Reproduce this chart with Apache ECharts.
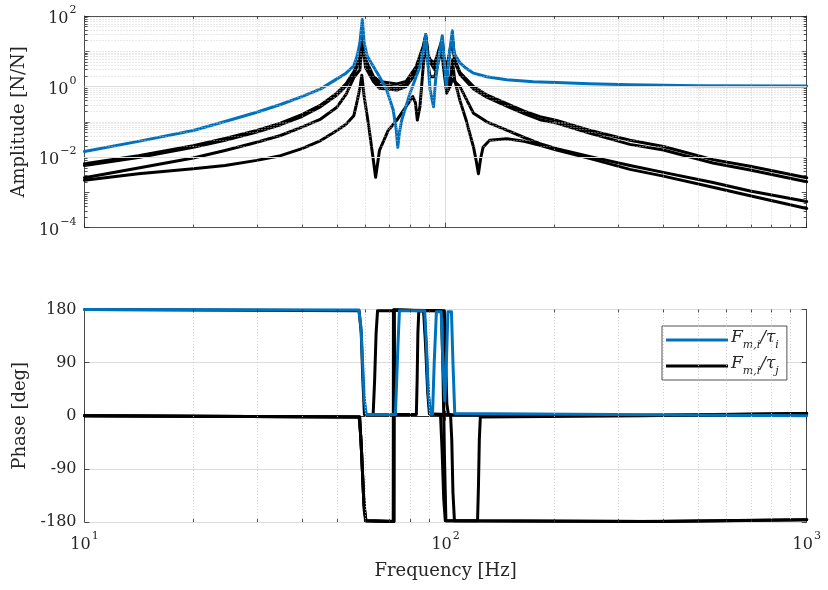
<!DOCTYPE html>
<html>
<head>
<meta charset="utf-8">
<script src="https://cdn.jsdelivr.net/npm/echarts@6/dist/echarts.min.js"></script>
<style>
  html, body { margin: 0; padding: 0; background: #fff; }
  #main { width: 828px; height: 590px; }
</style>
</head>
<body>
<div id="main"></div>
<script>
// --- amplitude (Hz / N/N) ---
var freqMagBlue = [10, 14.1, 20, 24.5, 30, 34.9, 40, 45.1, 50, 53, 55.7, 57.0, 57.9, 58.8, 59.5, 60.7, 63.1, 65.6, 68.7, 71.6, 73.0, 73.7, 74.5, 75.6, 79.7, 84.9, 87.0, 88.1, 89.3, 90.6, 92.6, 93.8, 95.5, 97.9, 99.0, 99.6, 100.4, 101.5, 102.8, 104.4, 105.5, 109.6, 114, 119.5, 130, 147.6, 175, 203, 250, 324, 500, 1000];
var magBlue = [0.0145, 0.028, 0.057, 0.102, 0.187, 0.31, 0.52, 0.86, 1.65, 2.4, 3.9, 8, 17.7, 80, 17, 7.2, 3.7, 1.9, 0.8, 0.216, 0.06, 0.019, 0.05, 0.112, 0.65, 3.7, 12, 30, 5, 0.8, 0.27, 1.5, 5.8, 28, 6, 3.0, 0.95, 3, 11, 38, 9, 4.7, 3.3, 2.4, 1.9, 1.55, 1.38, 1.3, 1.2, 1.12, 1.06, 1.03];

var freqMagA = [10, 14.1, 20, 24.5, 30, 34.9, 40, 45.1, 50, 53, 55.7, 57.0, 57.9, 58.8, 60, 63.1, 65.6, 73.3, 77.7, 82.9, 86.7, 88.1, 89.5, 90.6, 93.3, 96.5, 97.9, 99.6, 101.7, 104.4, 106, 109.6, 119.5, 130, 147.6, 165, 182.5, 203, 250, 324, 401, 550, 697, 1000];
var magA1 = [0.0065, 0.011, 0.021, 0.034, 0.057, 0.092, 0.16, 0.30, 0.65, 1.2, 2.6, 4.5, 6.5, 40, 6, 1.93, 1.39, 1.19, 1.39, 3.7, 13.9, 30, 8, 5.8, 4.6, 13.9, 22, 3.3, 5.8, 25, 6, 2.5, 1.0, 0.58, 0.33, 0.2, 0.14, 0.11, 0.058, 0.03, 0.02, 0.0085, 0.0055, 0.0026];
var magA2 = [0.0058, 0.0098, 0.019, 0.030, 0.051, 0.083, 0.142, 0.27, 0.58, 1.05, 2.3, 4, 5.5, 30, 5, 1.6, 1.11, 0.95, 1.15, 3.0, 12, 25, 7, 5, 3.8, 11, 18, 2.8, 5, 22, 5, 2.2, 0.85, 0.5, 0.28, 0.17, 0.115, 0.092, 0.048, 0.023, 0.016, 0.0068, 0.0043, 0.002];

var freqMagB = [10, 14.1, 20, 24.5, 30, 34.9, 40, 45.1, 50, 53, 55.7, 57.9, 58.8, 60, 63.1, 65.6, 73.3, 77.7, 82.9, 86.7, 88.1, 89.5, 91.5, 93.3, 96.5, 97.9, 99.6, 100.7, 101.7, 102.8, 104.4, 109.6, 119.5, 130, 147.6, 165, 182.5, 203, 250, 324, 401, 550, 697, 1000];
var magB = [0.0026, 0.0049, 0.0095, 0.0155, 0.0265, 0.041, 0.071, 0.12, 0.26, 0.6, 1.8, 3.0, 20, 3.5, 1.39, 0.89, 0.8, 1.0, 2.4, 9, 20, 6, 4.2, 3.0, 9, 15, 3, 1.55, 1.8, 1.0, 1.6, 1.0, 0.174, 0.1, 0.058, 0.036, 0.024, 0.0174, 0.0105, 0.0058, 0.0037, 0.0019, 0.0011, 0.00055];

var freqMagC = [10, 14.1, 20, 24.5, 30, 34.9, 40, 45.1, 50, 53, 55.7, 57.0, 58.0, 58.6, 59.5, 61.3, 63.1, 64.0, 65.6, 69.4, 73.3, 77.7, 81.1, 82.5, 83.5, 84.9, 86.7, 88.1, 89.5, 90.6, 93.3, 95.5, 97.5, 98.5, 100.7, 102.8, 104.4, 106, 109.6, 114, 119.5, 121.5, 123.3, 125, 127, 132.4, 147.6, 165, 182.5, 203, 250, 324, 401, 550, 697, 1000];
var magC = [0.0022, 0.0034, 0.0047, 0.0058, 0.0081, 0.011, 0.0174, 0.0296, 0.057, 0.085, 0.15, 0.42, 1.0, 2.1, 0.52, 0.072, 0.008, 0.0027, 0.0155, 0.058, 0.112, 0.27, 0.52, 0.35, 0.112, 0.27, 3.7, 18, 4, 1.9, 1.9, 5, 12, 4, 0.65, 1.0, 5.8, 1.5, 0.4, 0.112, 0.019, 0.008, 0.0034, 0.009, 0.019, 0.03, 0.033, 0.028, 0.0216, 0.016, 0.0092, 0.0045, 0.0029, 0.0014, 0.0008, 0.00035];

// --- phase (deg) ---
var freqPhBlue = [10, 57.5, 58.3, 58.9, 59.5, 60.3, 72.6, 73.2, 73.8, 74.5, 87.5, 88.5, 89.5, 90.8, 92.0, 93.0, 94.3, 97.2, 98.3, 99.5, 100.5, 101.5, 103.8, 104.8, 106.0, 1000];
var phBlue = [180, 179, 150, 90, 30, 2, 2, 60, 120, 178, 178, 120, 40, 3, 3, 90, 176, 176, 90, 25, 90, 176, 176, 90, 4, 0];

var freqPhA1 = [10, 57.6, 58.3, 58.9, 59.5, 60.2, 71.8, 71.9, 87.2, 88.3, 89.5, 90.5, 96.8, 97.8, 98.8, 99.8, 400, 1000];
var phA1 = [0, -2, -40, -100, -160, -178, -179, 179, 178, 120, 40, 3, 2, -60, -140, -178, -179, -176];

var freqPhA2 = [10, 57.8, 58.5, 59.2, 60.0, 72.0, 72.1, 86.9, 88.0, 89.2, 90.2, 103.2, 104.0, 104.8, 105.8, 350, 1000];
var phA2 = [0, -2, -60, -130, -178, -179, 179, 178, 120, 40, 3, 2, -40, -130, -178, -179, -176];

var freqPhB = [10, 57.8, 58.6, 59.4, 60.2, 71.6, 71.7, 99.2, 100.0, 100.8, 101.8, 350, 1000];
var phB = [0, -2, -70, -150, -178, -179, 179, 178, 100, 20, 2, 1, 4];

var freqPhC = [10, 57.6, 58.4, 59.0, 59.6, 63.0, 63.6, 64.2, 64.8, 71.8, 72.2, 72.6, 83.0, 83.4, 83.8, 84.3, 97.4, 98.3, 99.2, 100.2, 122.6, 123.3, 124.0, 124.8, 350, 1000];
var phC = [180, 178, 140, 60, 2, 2, 60, 140, 178, 178, 90, 2, 2, 60, 140, 178, 178, 80, -60, -178, -178, -120, -40, -2, 0, 4];

var phaseTicks = [-180, -90, 0, 90, 180];

var BLUE = '#0072BD';
var FONT = 'DejaVu Serif';
var AXC = '#262626';

function pairs(f, v) {
  return f.map(function (x, i) { return [x, v[i]]; });
}

function pow10Label(value) {
  var e = Math.round(Math.log10(value));
  var s = e < 0 ? '\u2212' + (-e) : '' + e;
  return '{b|10}{sup|' + s + '}';
}

var powRich = {
  b: { fontFamily: FONT, fontSize: 16, color: AXC, lineHeight: 22, verticalAlign: 'bottom' },
  sup: { fontFamily: FONT, fontSize: 11, color: AXC, lineHeight: 22, verticalAlign: 'top', padding: [0, 0, 6, 1] }
};

// grid decoration (MATLAB style dotted minor grid)
function gridLines(xMinor, yMinor, yMajor) {
  var d = [];
  xMinor.forEach(function (v) { d.push({ xAxis: v, lineStyle: { type: [1, 2], color: '#c8c8c8', width: 0.8 } }); });
  yMinor.forEach(function (v) { d.push({ yAxis: v, lineStyle: { type: [1, 2], color: '#c8c8c8', width: 0.8 } }); });
  yMajor.forEach(function (v) { d.push({ yAxis: v, lineStyle: { type: 'solid', color: '#dcdcdc', width: 1 } }); });
  return d;
}

// short minor tick segments on the box edges (log axes)
function minorTicks(xs, y0, y1, dy, ys, x0, x1, kx) {
  var d = [];
  xs.forEach(function (v) {
    d.push([{ coord: [v, y0] }, { coord: [v, dy(y0, 1)] }]);
    d.push([{ coord: [v, y1] }, { coord: [v, dy(y1, -1)] }]);
  });
  ys.forEach(function (v) {
    d.push([{ coord: [x0, v] }, { coord: [x0 * kx, v] }]);
    d.push([{ coord: [x1, v] }, { coord: [x1 / kx, v] }]);
  });
  return d;
}

var xMinor = [];
[10, 100].forEach(function (d) {
  for (var m = 2; m <= 9; m++) xMinor.push(m * d);
});
var yMinorMag = [];
var yTickMinorMag = [];
for (var n = -4; n <= 1; n++) {
  for (var m = 1; m <= 9; m++) {
    if (m > 1) yTickMinorMag.push(m * Math.pow(10, n));
    if (m === 1 && n % 2 === 0) continue;
    yMinorMag.push(m * Math.pow(10, n));
  }
}

var chart = echarts.init(document.getElementById('main'));

function lineSeries(name, color, xi, yi, data, z) {
  return {
    name: name,
    type: 'line',
    xAxisIndex: xi,
    yAxisIndex: yi,
    data: data,
    symbol: 'none',
    showSymbol: false,
    silent: true,
    animation: false,
    z: z,
    lineStyle: { color: color, width: 3, join: 'round', cap: 'round' },
    itemStyle: { color: color }
  };
}

var tick = { inside: true, length: 5, lineStyle: { color: AXC, width: 0.8 } };
var line = { show: true, lineStyle: { color: AXC, width: 0.8 } };
var tickLine = { type: 'solid', color: AXC, width: 0.8 };

var option = {
  backgroundColor: '#fff',
  animation: false,
  grid: [
    { left: 84.5, top: 16, width: 722.2, height: 211.7 },
    { left: 84.5, top: 309.5, width: 722.2, height: 212.5 }
  ],
  legend: {
    data: ['Fi', 'Fj'],
    orient: 'vertical',
    left: 662,
    top: 326,
    icon: 'rect',
    itemWidth: 62,
    itemHeight: 3,
    itemGap: 4,
    padding: [3, 8, 3, 4],
    backgroundColor: '#fff',
    borderColor: AXC,
    borderWidth: 0.8,
    formatter: function (name) {
      return '{i|F}{s|m,i}{i|/\u03c4}{s|' + (name === 'Fi' ? 'i' : 'j') + '}';
    },
    textStyle: {
      padding: [0, 0, 0, -2],
      rich: {
        i: { fontFamily: FONT, fontStyle: 'italic', fontSize: 17, color: AXC, lineHeight: 22, verticalAlign: 'top' },
        s: { fontFamily: FONT, fontStyle: 'italic', fontSize: 11, color: AXC, lineHeight: 22, verticalAlign: 'bottom', padding: [6, 0, 0, 0] }
      }
    }
  },
  xAxis: [
    { gridIndex: 0, type: 'log', logBase: 10, min: 10, max: 1000, axisLine: line, axisTick: tick, axisLabel: { show: false },
      splitLine: { show: true, lineStyle: { color: '#dcdcdc' } } },
    { gridIndex: 0, type: 'log', logBase: 10, min: 10, max: 1000, position: 'top', axisLine: line, axisTick: tick, axisLabel: { show: false }, splitLine: { show: false } },
    { gridIndex: 1, type: 'log', logBase: 10, min: 10, max: 1000, axisLine: line, axisTick: tick,
      axisLabel: { formatter: pow10Label, rich: powRich, margin: 9 },
      splitLine: { show: true, lineStyle: { color: '#dcdcdc' } },
      name: 'Frequency [Hz]', nameLocation: 'middle', nameGap: 40,
      nameTextStyle: { fontFamily: FONT, fontSize: 18, color: AXC } },
    { gridIndex: 1, type: 'log', logBase: 10, min: 10, max: 1000, position: 'top', axisLine: line, axisTick: tick, axisLabel: { show: false }, splitLine: { show: false } }
  ],
  yAxis: [
    { gridIndex: 0, type: 'log', logBase: 10, min: 1e-4, max: 1e2, axisLine: line, axisTick: tick,
      axisLabel: {
        margin: 8, rich: powRich,
        formatter: function (v) {
          var e = Math.round(Math.log10(v));
          return e % 2 === 0 ? pow10Label(v) : '';
        }
      },
      splitLine: { show: false },
      name: 'Amplitude [N/N]', nameLocation: 'middle', nameGap: 55,
      nameTextStyle: { fontFamily: FONT, fontSize: 18, color: AXC } },
    { gridIndex: 0, type: 'log', logBase: 10, min: 1e-4, max: 1e2, position: 'right', axisLine: line, axisTick: tick, axisLabel: { show: false }, splitLine: { show: false } },
    { gridIndex: 1, type: 'value', min: phaseTicks[0], max: phaseTicks[phaseTicks.length - 1], interval: 90, axisLine: line, axisTick: tick,
      axisLabel: { margin: 8, fontFamily: FONT, fontSize: 16, color: AXC },
      splitLine: { show: true, lineStyle: { color: '#dcdcdc' } },
      name: 'Phase [deg]', nameLocation: 'middle', nameGap: 55,
      nameTextStyle: { fontFamily: FONT, fontSize: 18, color: AXC } },
    { gridIndex: 1, type: 'value', min: -180, max: 180, interval: 90, position: 'right', axisLine: line, axisTick: tick, axisLabel: { show: false }, splitLine: { show: false } }
  ],
  series: [
    // grid decorations
    { type: 'line', xAxisIndex: 0, yAxisIndex: 0, data: [], silent: true, z: 1,
      markLine: { silent: true, symbol: ['none', 'none'], label: { show: false }, animation: false,
        data: gridLines(xMinor, yMinorMag, [1e-2, 1]) } },
    { type: 'line', xAxisIndex: 2, yAxisIndex: 2, data: [], silent: true, z: 1,
      markLine: { silent: true, symbol: ['none', 'none'], label: { show: false }, animation: false,
        data: gridLines(xMinor, [], []) } },
    // minor ticks
    { type: 'line', xAxisIndex: 0, yAxisIndex: 0, data: [], silent: true, z: 6,
      markLine: { silent: true, symbol: ['none', 'none'], label: { show: false }, animation: false, lineStyle: tickLine,
        data: minorTicks(xMinor, 1e-4, 1e2, function (y, s) { return y * Math.pow(10, s * 0.085); },
          yTickMinorMag, 10, 1000, 1.02) } },
    { type: 'line', xAxisIndex: 2, yAxisIndex: 2, data: [], silent: true, z: 6,
      markLine: { silent: true, symbol: ['none', 'none'], label: { show: false }, animation: false, lineStyle: tickLine,
        data: minorTicks(xMinor, -180, 180, function (y, s) { return y + s * 5; }, [], 10, 1000, 1) } },

    lineSeries('Fj', '#000', 0, 0, pairs(freqMagA, magA1), 3),
    lineSeries('Fj', '#000', 0, 0, pairs(freqMagA, magA2), 3),
    lineSeries('Fj', '#000', 0, 0, pairs(freqMagB, magB), 3),
    lineSeries('Fj', '#000', 0, 0, pairs(freqMagC, magC), 3),
    lineSeries('Fi', BLUE, 0, 0, pairs(freqMagBlue, magBlue), 4),

    lineSeries('Fj', '#000', 2, 2, pairs(freqPhA1, phA1), 3),
    lineSeries('Fj', '#000', 2, 2, pairs(freqPhA2, phA2), 3),
    lineSeries('Fj', '#000', 2, 2, pairs(freqPhB, phB), 3),
    lineSeries('Fj', '#000', 2, 2, pairs(freqPhC, phC), 3),
    lineSeries('Fi', BLUE, 2, 2, pairs(freqPhBlue, phBlue), 4)
  ]
};

chart.setOption(option);
</script>
</body>
</html>
